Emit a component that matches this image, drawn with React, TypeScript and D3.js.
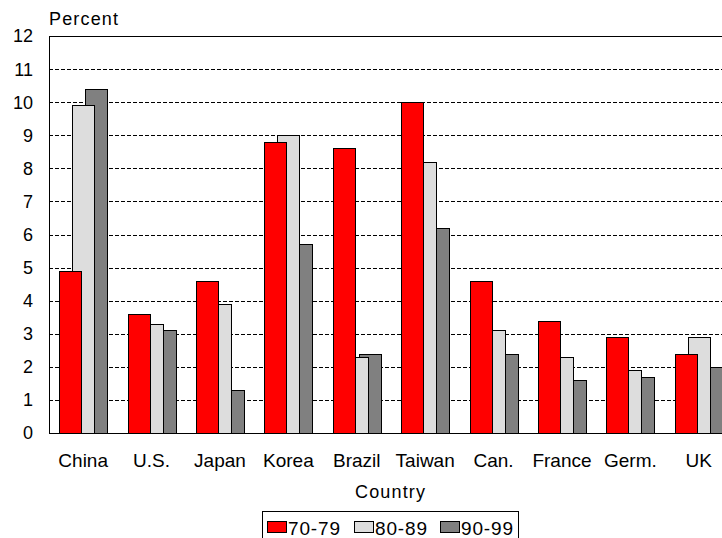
import React, { useEffect, useRef } from 'react';
import * as d3 from 'd3';

const countries = ['China', 'U.S.', 'Japan', 'Korea', 'Brazil', 'Taiwan', 'Can.', 'France', 'Germ.', 'UK'];
const series = ['70-79', '80-89', '90-99'];
const s70 = [4.9, 3.6, 4.6, 8.8, 8.6, 10.0, 4.6, 3.4, 2.9, 2.4];
const s80 = [9.9, 3.3, 3.9, 9.0, 2.3, 8.2, 3.1, 2.3, 1.9, 2.9];
const s90 = [10.4, 3.1, 1.3, 5.7, 2.4, 6.2, 2.4, 1.6, 1.7, 2.0];
const yTicks = [0, 1, 2, 3, 4, 5, 6, 7, 8, 9, 10, 11, 12];
const colors = ['#ff0000', '#dddddd', '#808080'];

const App: React.FC = () => {
  const ref = useRef<SVGSVGElement>(null);

  useEffect(() => {
    if (!ref.current) return;
    const svg = d3.select(ref.current);
    svg.selectAll('*').remove();

    const font = 'Arial, "Liberation Sans", sans-serif';
    const left = 49;
    const top = 36;
    const bottom = 433;
    const step = 68.4;

    const x = d3
      .scaleBand<string>()
      .domain(countries)
      .range([left, left + step * countries.length])
      .paddingInner(0)
      .paddingOuter(0);
    const y = d3.scaleLinear().domain([0, 12]).range([bottom, top]);

    const barW = 22;
    const offset = 13;
    const groupW = barW + offset * 2;

    // gridlines
    svg
      .append('g')
      .selectAll('line')
      .data(yTicks.filter((d) => d > 0))
      .enter()
      .append('line')
      .attr('x1', left)
      .attr('x2', 722)
      .attr('y1', (d) => Math.round(y(d)) + 0.5)
      .attr('y2', (d) => Math.round(y(d)) + 0.5)
      .attr('stroke', '#000')
      .attr('stroke-width', 1)
      .attr('stroke-dasharray', (d) => (d === 12 ? null : '4,2'));

    // bars: draw dark first, then light, then red on top
    const all = [s70, s80, s90];
    for (let si = 2; si >= 0; si--) {
      svg
        .append('g')
        .selectAll('rect')
        .data(countries)
        .enter()
        .append('rect')
        .attr('x', (d) => Math.round((x(d) as number) + (step - groupW) / 2 + si * offset) + 0.5)
        .attr('y', (d, i) => Math.round(y(all[si][i])) + 0.5)
        .attr('width', barW)
        .attr('height', (d, i) => Math.round(bottom - y(all[si][i])))
        .attr('fill', colors[si])
        .attr('stroke', '#000')
        .attr('stroke-width', 1);
    }

    // axes lines
    svg
      .append('line')
      .attr('x1', left + 0.5)
      .attr('x2', left + 0.5)
      .attr('y1', top)
      .attr('y2', bottom)
      .attr('stroke', '#000');
    svg
      .append('line')
      .attr('x1', left)
      .attr('x2', 722)
      .attr('y1', bottom + 0.5)
      .attr('y2', bottom + 0.5)
      .attr('stroke', '#000');

    // y tick labels
    svg
      .append('g')
      .selectAll('text')
      .data(yTicks)
      .enter()
      .append('text')
      .attr('x', 33)
      .attr('y', (d) => y(d))
      .attr('dy', '0.36em')
      .attr('text-anchor', 'end')
      .style('font-family', font)
      .style('font-size', '18px')
      .text((d) => d);

    // x labels
    svg
      .append('g')
      .selectAll('text')
      .data(countries)
      .enter()
      .append('text')
      .attr('x', (d) => (x(d) as number) + step / 2)
      .attr('y', 467)
      .attr('text-anchor', 'middle')
      .style('font-family', font)
      .style('font-size', '19px')
      .text((d) => d);

    svg
      .append('text')
      .attr('x', 49)
      .attr('y', 25)
      .attr('textLength', 69)
      .style('font-family', font)
      .style('font-size', '18px')
      .text('Percent');

    svg
      .append('text')
      .attr('x', 355)
      .attr('y', 498)
      .attr('textLength', 70)
      .style('font-family', font)
      .style('font-size', '18px')
      .text('Country');

    // legend
    const lg = svg.append('g');
    lg.append('rect')
      .attr('x', 262.5)
      .attr('y', 511.5)
      .attr('width', 256)
      .attr('height', 40)
      .attr('fill', '#fff')
      .attr('stroke', '#000');
    const itemX = [267, 354, 440];
    series.forEach((s, i) => {
      lg.append('rect')
        .attr('x', itemX[i] + 0.5)
        .attr('y', 521.5)
        .attr('width', 19)
        .attr('height', 11)
        .attr('fill', colors[i])
        .attr('stroke', '#000');
      lg.append('text')
        .attr('x', itemX[i] + 21)
        .attr('y', 535)
        .attr('textLength', 52)
        .style('font-family', font)
        .style('font-size', '19px')
        .text(s);
    });
  }, []);

  return (
    <svg
      ref={ref}
      width={722}
      height={538}
      style={{ position: 'absolute', left: 0, top: 0, background: '#fff' }}
    />
  );
};

export default App;
